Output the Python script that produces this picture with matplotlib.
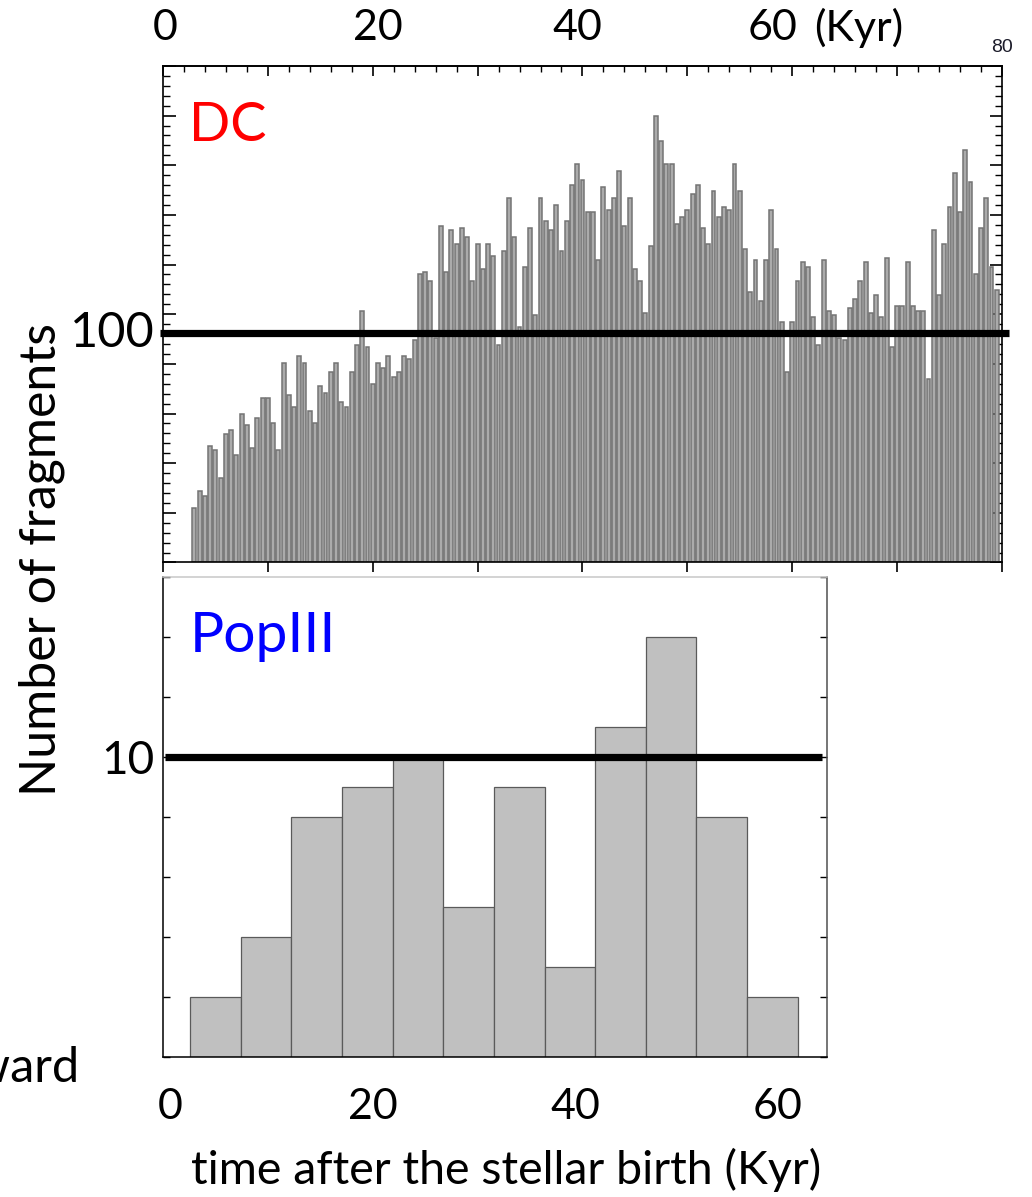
import numpy as np
import matplotlib
matplotlib.use('Agg')
import matplotlib.pyplot as plt
import matplotlib.transforms as mtransforms
from matplotlib.ticker import MultipleLocator, FixedLocator

plt.rcParams['font.family'] = ['Lato', 'DejaVu Sans']

# DC run: number of fragments in 0.5 Kyr bins, first bin centred on 3 Kyr
dc_start = 3.0
dc_step = 0.5
dc_counts = [24, 31, 29, 51, 49, 37, 56, 58, 47, 65,
             60, 50, 63, 72, 72, 61, 49, 87, 73, 68,
             90, 87, 66, 61, 77, 74, 83, 87, 70, 68,
             83, 95, 110, 94, 78, 87, 85, 90, 81, 83,
             90, 89, 97, 126, 127, 123, 98, 147, 127, 145,
             139, 146, 142, 123, 139, 128, 139, 134, 95, 136,
             159, 142, 103, 129, 146, 108, 159, 149, 145, 156,
             136, 149, 165, 174, 167, 153, 153, 132, 164, 154,
             159, 171, 147, 159, 128, 123, 109, 138, 195, 184,
             174, 174, 148, 151, 154, 161, 165, 146, 139, 162,
             151, 155, 154, 174, 162, 137, 118, 132, 114, 132,
             154, 137, 105, 83, 105, 123, 131, 129, 107, 95,
             132, 110, 108, 98, 97, 111, 115, 123, 131, 109,
             117, 107, 133, 94, 112, 112, 131, 112, 110, 110,
             80, 145, 117, 139, 155, 170, 153, 180, 166, 126,
             146, 159, 129, 119]
dc_time = dc_start + dc_step * np.arange(len(dc_counts))
dc_ref = 100

# PopIII run: 5 Kyr bins
pop_edges = np.arange(2, 63, 5)
pop_counts = [2, 4, 8, 9, 10, 5, 9, 3, 11, 14, 8, 2]
pop_ref = 10

bottom_ticks = [0, 20, 40, 60]
top_labels = ['0', '20', '40', '60']
top_label_x = [0.2, 20.5, 39.5, 58.1]

fig = plt.figure(figsize=(10.32, 11.97), dpi=100)

# ---- upper panel (DC) ----
ax1 = fig.add_axes([0.1579, 0.5301, 0.8130, 0.4148])
ax1.bar(dc_time, dc_counts, width=0.37, color='#ababab',
        edgecolor='#747474', linewidth=1.1, zorder=2)
ax1.set_xlim(0, 80)
ymax1 = 216.8
ax1.set_ylim(0, ymax1)
ax1.plot([-0.3, 80.7], [dc_ref, dc_ref], color='black', lw=5.2,
         solid_capstyle='butt', clip_on=False, zorder=5)

ax1.xaxis.set_major_locator(MultipleLocator(10))
ax1.tick_params(axis='x', which='major', direction='out', length=7,
                width=1.2, labelbottom=False, top=False)
ax1.yaxis.set_major_locator(MultipleLocator(ymax1 / 10))
ax1.yaxis.set_minor_locator(MultipleLocator(ymax1 / 50))
ax1.tick_params(axis='y', which='major', direction='in', length=9,
                width=1.2, left=True, right=True, labelleft=False)
ax1.tick_params(axis='y', which='minor', direction='in', length=5,
                width=1.0, left=True, right=True)
sec = ax1.secondary_xaxis('top')
sec.xaxis.set_major_locator(MultipleLocator(10))
sec.xaxis.set_minor_locator(MultipleLocator(2))
sec.tick_params(which='major', direction='in', length=7, width=1.2,
                labeltop=False)
sec.tick_params(which='minor', direction='in', length=4, width=1.0)
for sp in list(ax1.spines.values()) + [sec.spines['top']]:
    sp.set_linewidth(1.2)

trans1 = mtransforms.blended_transform_factory(ax1.transData, ax1.transAxes)
for x, lab in zip(top_label_x, top_labels):
    ax1.text(x, 1.077, lab, transform=trans1, ha='center', va='center',
             fontsize=31)
ax1.text(66.3, 1.077, '(Kyr)', transform=trans1, ha='center', va='center',
         fontsize=31)
ax1.text(80.0, 1.038, '80', transform=trans1, ha='center', va='center',
         fontsize=14, color='#1c1c2a', family=['Liberation Sans'])
ax1.text(-0.75, dc_ref, '100', transform=ax1.transData, ha='right',
         va='center', fontsize=35)
ax1.text(2.5, 0.88, 'DC', transform=trans1, ha='left', va='center',
         fontsize=39, color='#ff0000')

# ---- lower panel (PopIII) ----
ax2 = fig.add_axes([0.1579, 0.1170, 0.6434, 0.4010])
ax2.bar(pop_edges[:-1], pop_counts, width=5, align='edge', color='#c0c0c0',
        edgecolor='#5a5a5a', linewidth=0.9, zorder=2)
ax2.set_xlim(-0.7, 64.9)
ax2.set_ylim(0, 16)
ax2.plot([-0.5, 64.4], [pop_ref, pop_ref], color='black', lw=5.2,
         solid_capstyle='butt', clip_on=False, zorder=5)
ax2.yaxis.set_major_locator(MultipleLocator(2))
ax2.yaxis.set_major_formatter(
    plt.FuncFormatter(lambda v, p: '10' if abs(v - pop_ref) < 1e-6 else ''))
ax2.tick_params(axis='y', direction='in', length=5, width=1.0,
                left=True, right=True, labelsize=33, pad=6)
ax2.xaxis.set_major_locator(FixedLocator(bottom_ticks))
ax2.tick_params(axis='x', length=0, labelsize=31, pad=22)
ax2.spines['top'].set_color('#c8c8c8')
ax2.spines['right'].set_color('#505050')
for sp in ax2.spines.values():
    sp.set_linewidth(1.1)
trans2 = mtransforms.blended_transform_factory(ax2.transData, ax2.transAxes)
ax2.text(1.9, 0.875, 'PopIII', transform=trans2, ha='left', va='center',
         fontsize=41, color='#0000ff')

fig.text(42 / 1032, 1 - 560 / 1197, 'Number of fragments', rotation=90,
         ha='center', va='center', fontsize=36)
fig.text(506 / 1032, 1 - 1170 / 1197, 'time after the stellar birth (Kyr)',
         ha='center', va='center', fontsize=33.5)
fig.text(79 / 1032, 1 - 1082 / 1197, 'toward', ha='right', va='baseline',
         fontsize=35)

fig.savefig('out.png', dpi=100)
